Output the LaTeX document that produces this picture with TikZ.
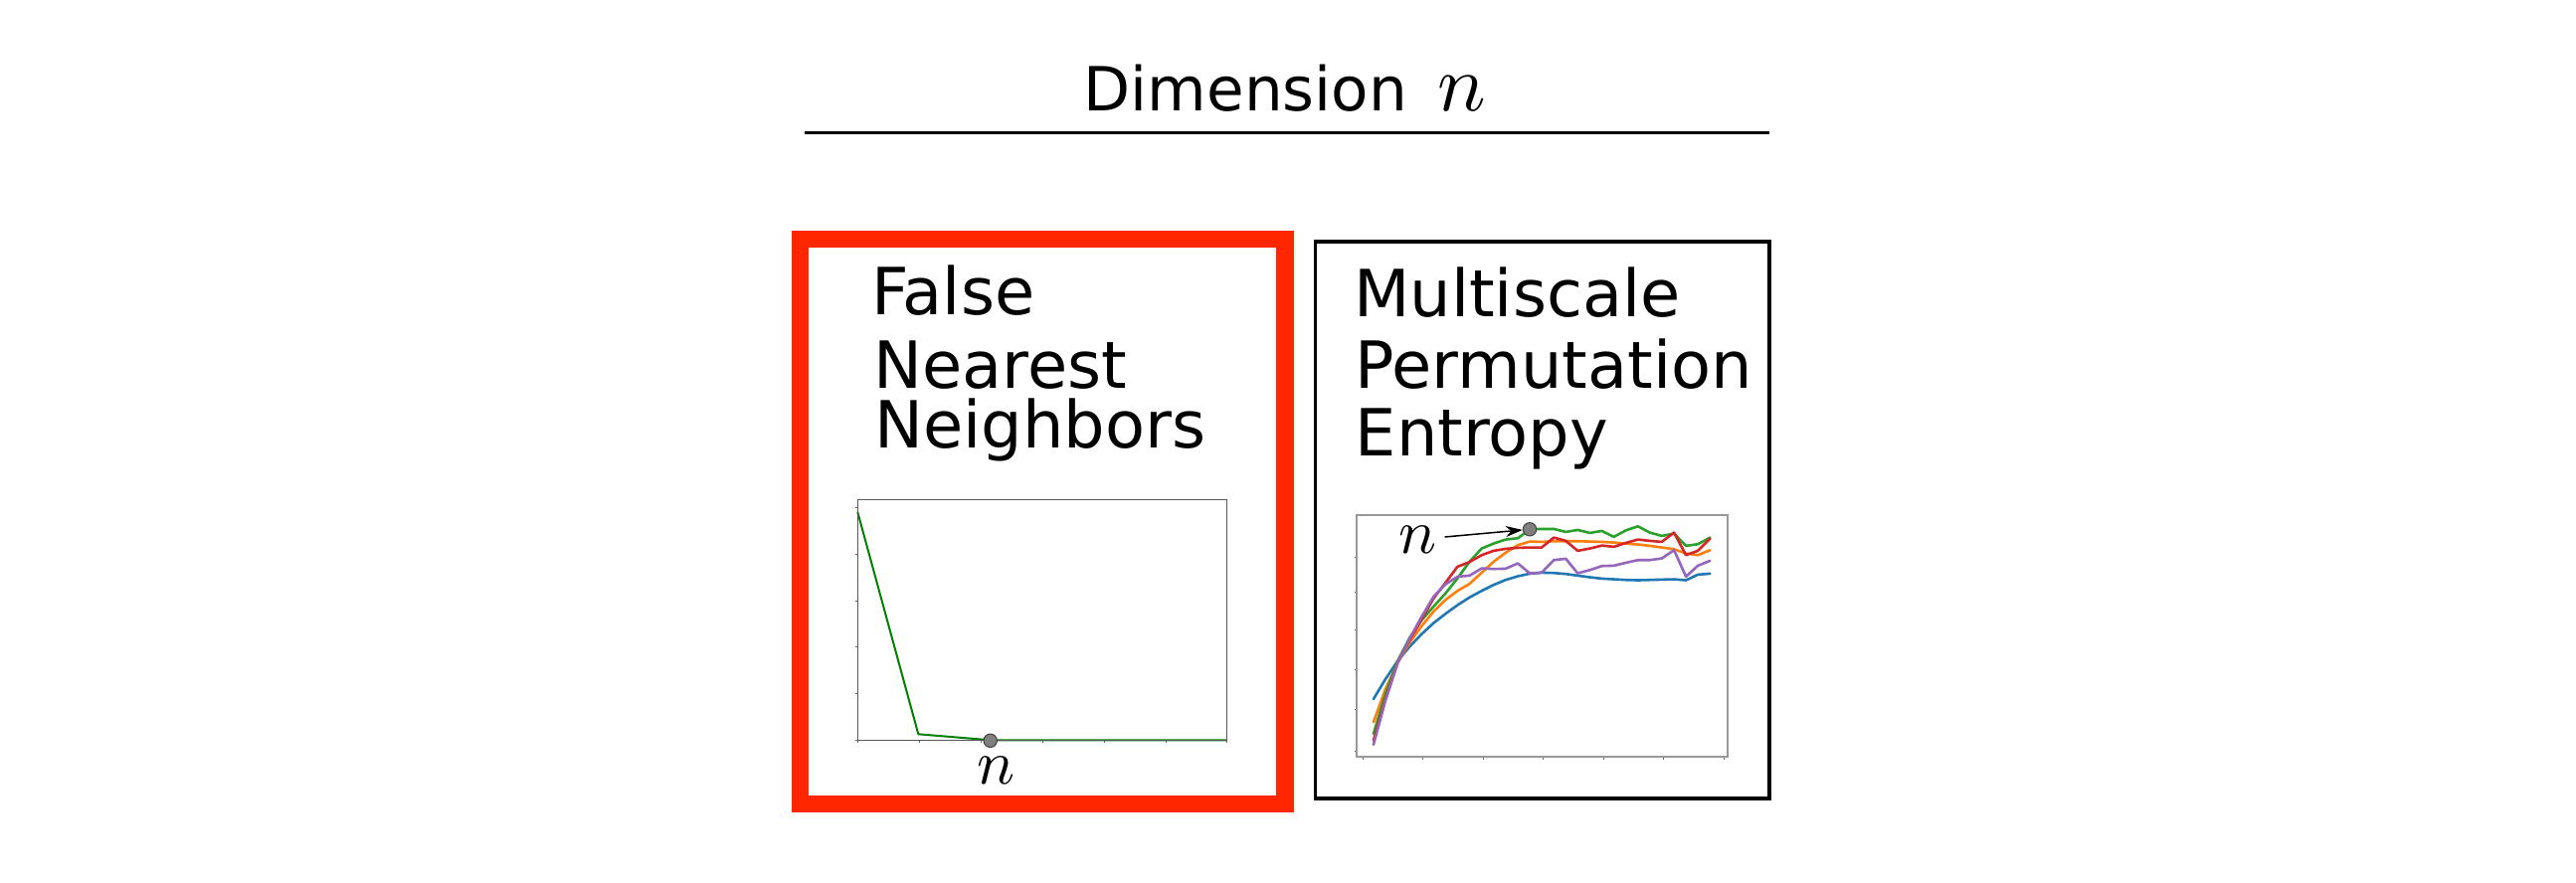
\documentclass[tikz,border=0pt]{standalone}
\usepackage{graphicx}
\usepackage{fontspec}
\setmainfont{DejaVu Sans}
\usetikzlibrary{arrows.meta}
\definecolor{fnnred}{RGB}{255,38,0}
\definecolor{tabblue}{HTML}{1F77B4}
\definecolor{taborange}{HTML}{FF7F0E}
\definecolor{tabgreen}{HTML}{2CA02C}
\definecolor{tabred}{HTML}{D62728}
\definecolor{tabpurple}{HTML}{9467BD}
\definecolor{mplgreen}{HTML}{008000}
\definecolor{dotgray}{HTML}{808080}
\newcommand{\mathn}[1]{\scalebox{#1}{\fontsize{10}{12}\selectfont$n$}}
\begin{document}
\begin{tikzpicture}[x=0.01cm,y=-0.01cm,
  lbl/.style={anchor=base west, inner sep=0pt, font=\fontsize{18.6}{20}\selectfont},
  ttl/.style={anchor=base west, inner sep=0pt, font=\fontsize{17.4}{20}\selectfont},
  mlbl/.style={inner sep=0pt},
  dotmark/.style={circle, fill=dotgray, draw=black!75, line width=0.01cm, minimum size=0.134cm, inner sep=0pt},
  frameA/.style={draw=black!65, line width=0.012cm},
  frameB/.style={draw=black!40, line width=0.02cm},
  tick/.style={draw=black!60, line width=0.008cm},
  mpe/.style={line width=0.026cm, line join=round, line cap=round},
  ptr/.style={-{Stealth[length=0.17cm, width=0.11cm]}, line width=0.015cm, shorten <=0.08cm}
]
\useasboundingbox (0,0) rectangle (2590,888);
\fill[white] (0,0) rectangle (2590,888);

% title
\node[ttl] (title) at (1089,112) {Dimension\hspace{0.31cm}\mathn{2.3}};
\coordinate (ruleL) at (809,133.3);
\coordinate (ruleR) at (1779,133.3);
\draw[line width=0.035cm] (ruleL) -- (ruleR);

% boxes
\draw[fnnred, line width=0.175cm] (804.7,240.3) rectangle (1292.2,808.3);
\draw[black, line width=0.035cm] (1322.5,243) rectangle (1779,803);

% box titles
\node[lbl] (fnn1) at (875.5,316.7) {False};
\node[lbl] (fnn2) at (878,390) {Nearest};
\node[lbl] (fnn3) at (878.7,450) {Neighbors};
\node[lbl] (mpe1) at (1360.4,318.3) {Multiscale};
\node[lbl] (mpe2) at (1361.7,390.7) {Permutation};
\node[lbl] (mpe3) at (1362,458.3) {Entropy};

% ---- left plot (FNN)
\foreach \yy in {510,557,604,650,697,744} \draw[tick] (862.3,\yy) -- (859.5,\yy);
\foreach \xx in {862.3,924,986,1048,1110,1172,1233.3} \draw[tick] (\xx,744.3) -- (\xx,747);
\draw[mplgreen, line width=0.02cm, line join=round] (862.3,515) -- (923.3,738.3) -- (995.7,744.3) -- (1233.3,744.3);
\draw[frameA] (862.3,502.3) rectangle (1233.3,744.3);
\node[dotmark] (dotL) at (995.7,744.8) {};
\node[mlbl] (nL) at (1001,775) {\mathn{1.8}};

% ---- right plot (MPE)
\foreach \yy in {560,595,633,673,713,755} \draw[tick] (1364.3,\yy) -- (1361.5,\yy);
\foreach \xx in {1370,1430.5,1491,1551.5,1612,1672.5,1733} \draw[tick] (\xx,760.5) -- (\xx,763.5);
\begin{scope}[shift={(1350,500)}, x=0.003333cm, y=-0.003333cm]
\draw[mpe, tabblue] plot coordinates {(93,610) (129,550) (166,495) (202,452) (238,414) (275,380) (311,352) (347,326) (383,303) (420,283) (456,265) (492,250) (529,239) (565,231) (601,228) (638,229) (674,232) (710,237) (747,242) (783,246) (819,248) (856,250) (892,251) (928,250) (964,249) (1001,248) (1037,251) (1073,234) (1110,231)};
\draw[mpe, taborange] plot coordinates {(93,680) (129,580) (166,500) (202,440) (238,390) (275,345) (311,310) (347,283) (383,262) (420,228) (456,195) (492,168) (529,145) (565,134) (601,135) (638,133) (674,133) (710,133) (747,134) (783,135) (819,137) (856,140) (892,143) (928,147) (964,152) (1001,157) (1037,170) (1073,175) (1110,160)};
\draw[mpe, tabgreen] plot coordinates {(93,715) (129,595) (166,495) (202,425) (238,372) (275,330) (311,290) (347,245) (383,195) (420,155) (456,140) (492,128) (529,124) (565,97) (601,96) (638,96) (674,105) (710,99) (747,108) (783,102) (819,120) (856,100) (892,88) (928,107) (964,117) (1001,110) (1037,147) (1073,142) (1110,122)};
\draw[mpe, tabred] plot coordinates {(93,735) (129,610) (166,500) (202,432) (238,370) (275,305) (311,258) (347,210) (383,196) (420,175) (456,162) (492,156) (529,153) (565,152) (601,152) (638,122) (674,132) (710,162) (747,155) (783,146) (819,150) (856,138) (892,128) (928,132) (964,135) (1001,107) (1037,175) (1073,162) (1110,125)};
\draw[mpe, tabpurple] plot coordinates {(93,748) (129,615) (166,502) (202,428) (238,362) (275,300) (311,263) (347,240) (383,237) (420,215) (456,217) (492,216) (529,200) (565,230) (601,228) (638,190) (674,186) (710,230) (747,220) (783,208) (819,207) (856,198) (892,190) (928,190) (964,185) (1001,160) (1037,240) (1073,207) (1110,192)};
\node[dotmark] (dotR) at (565,97) {};
\end{scope}
\draw[frameB] (1364.3,518.3) rectangle (1736.9,760.5);
\node[mlbl] (nR) at (1425,542.5) {\mathn{1.8}};
\draw[ptr] (nR) -- (dotR);
\end{tikzpicture}
\end{document}
